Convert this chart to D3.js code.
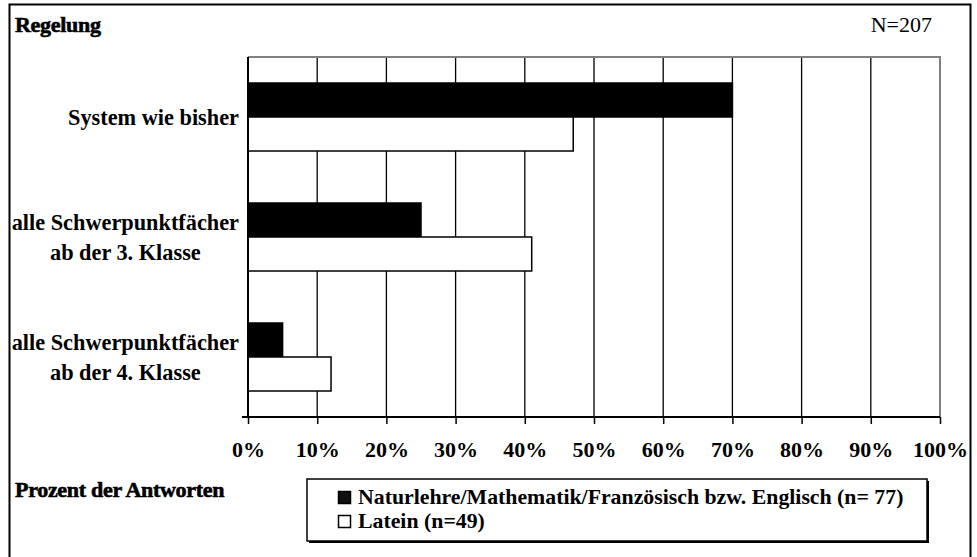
<!DOCTYPE html>
<html>
<head>
<meta charset="utf-8">
<script src="https://cdn.jsdelivr.net/npm/d3@7"></script>
<style>
  html, body { margin: 0; padding: 0; background: #fff; }
  svg { display: block; }
  text { font-family: "Liberation Serif", "Times New Roman", serif; fill: #000; }
</style>
</head>
<body>
<svg id="chart" width="977" height="557"></svg>
<script>
// Survey answers: preferred arrangement of the "Schwerpunktfächer"
const categories = [
  ["System wie bisher"],
  ["alle Schwerpunktfächer", "ab der 3. Klasse"],
  ["alle Schwerpunktfächer", "ab der 4. Klasse"]
];
const seriesNames = [
  "Naturlehre/Mathematik/Französisch bzw. Englisch (n= 77)",
  "Latein (n=49)"
];
const naturlehreValues = [70, 25, 5];
const lateinValues = [47, 41, 12];
const tickValues = [0, 10, 20, 30, 40, 50, 60, 70, 80, 90, 100];
const titleText = "Regelung";
const totalText = "N=207";
const axisTitle = "Prozent der Antworten";

const seriesValues = [naturlehreValues, lateinValues];
const seriesFill = ["#000", "#fff"];

const svg = d3.select("#chart");

// outer frame
svg.append("rect")
  .attr("x", 9.5).attr("y", 4.5)
  .attr("width", 961).attr("height", 560)
  .attr("fill", "#fff").attr("stroke", "#000").attr("stroke-width", 2);

const plot = { left: 248, right: 940, top: 57, bottom: 417 };

const x = d3.scaleLinear().domain([0, 100]).range([plot.left, plot.right]);
const y = d3.scaleBand()
  .domain(d3.range(categories.length))
  .range([plot.top, plot.bottom])
  .paddingInner(0.4333)
  .paddingOuter(0.2167);
const ySub = d3.scaleBand()
  .domain(d3.range(seriesNames.length))
  .range([0, y.bandwidth()]);

// vertical gridlines
svg.append("g")
  .selectAll("line")
  .data(tickValues.filter(t => t > 0 && t < 100))
  .join("line")
  .attr("x1", d => x(d)).attr("x2", d => x(d))
  .attr("y1", plot.top).attr("y2", plot.bottom)
  .attr("stroke", "#000").attr("stroke-width", 1.3);

// plot area top and right borders (grey)
svg.append("path")
  .attr("d", `M${plot.left},${plot.top}H${plot.right}V${plot.bottom}`)
  .attr("fill", "none").attr("stroke", "#808080").attr("stroke-width", 2);

// bars
const groups = svg.append("g")
  .selectAll("g")
  .data(categories.map((c, i) => i))
  .join("g")
  .attr("transform", i => `translate(0,${y(i)})`);

groups.selectAll("rect")
  .data(i => seriesValues.map((vals, s) => ({ s, v: vals[i] })))
  .join("rect")
  .attr("x", x(0))
  .attr("y", d => ySub(d.s))
  .attr("width", d => x(d.v) - x(0))
  .attr("height", ySub.bandwidth())
  .attr("fill", d => seriesFill[d.s])
  .attr("stroke", "#000")
  .attr("stroke-width", 1.5);

// x axis
const xAxis = svg.append("g")
  .attr("transform", `translate(0,${plot.bottom})`)
  .call(d3.axisBottom(x).tickValues(tickValues).tickFormat(d => d + "%").tickSize(7).tickSizeOuter(0).tickPadding(17));
xAxis.select(".domain").remove();
xAxis.selectAll(".tick line").attr("stroke", "#000").attr("stroke-width", 1.5);
xAxis.selectAll(".tick text")
  .attr("font-family", "Liberation Serif, serif")
  .attr("font-size", 22).attr("font-weight", "bold").attr("fill", "#000");
svg.append("line")
  .attr("x1", plot.left - 6).attr("x2", plot.right)
  .attr("y1", plot.bottom).attr("y2", plot.bottom)
  .attr("stroke", "#000").attr("stroke-width", 2);

// y axis line
svg.append("line")
  .attr("x1", plot.left).attr("x2", plot.left)
  .attr("y1", plot.top).attr("y2", plot.bottom)
  .attr("stroke", "#000").attr("stroke-width", 2);

// category labels: each block right-aligned, its lines centred inside it
const labelRight = 239;
const lineGap = 30;
categories.forEach((lines, i) => {
  const cy = y(i) + y.bandwidth() / 2;
  const g = svg.append("g");
  const texts = lines.map((ln, k) => g.append("text")
    .attr("font-size", 22.3).attr("font-weight", "bold")
    .attr("text-anchor", "middle")
    .attr("y", cy + 8 + (k - (lines.length - 1) / 2) * lineGap)
    .text(ln));
  const w = d3.max(texts, t => t.node().getComputedTextLength());
  texts.forEach(t => t.attr("x", labelRight - w / 2));
});

// title and total
svg.append("text")
  .attr("x", 15).attr("y", 32)
  .attr("font-size", 22).attr("font-weight", "bold")
  .attr("letter-spacing", -0.3)
  .attr("stroke", "#000").attr("stroke-width", 0.6)
  .text(titleText);
svg.append("text")
  .attr("x", 932).attr("y", 32)
  .attr("text-anchor", "end")
  .attr("font-size", 22)
  .text(totalText);
svg.append("text")
  .attr("x", 15).attr("y", 497)
  .attr("font-size", 22).attr("font-weight", "bold")
  .attr("letter-spacing", -0.3)
  .attr("stroke", "#000").attr("stroke-width", 0.6)
  .text(axisTitle);

// legend with drop shadow
const lg = { x: 307, y: 479, w: 620, h: 62 };
svg.append("rect")
  .attr("x", lg.x + 2).attr("y", lg.y + 2).attr("width", lg.w).attr("height", lg.h)
  .attr("fill", "#000");
svg.append("rect")
  .attr("x", lg.x).attr("y", lg.y).attr("width", lg.w).attr("height", lg.h)
  .attr("fill", "#fff").attr("stroke", "#000").attr("stroke-width", 1.5);
const legendItems = svg.append("g")
  .selectAll("g")
  .data(seriesNames.map((n, s) => ({ n, s })))
  .join("g")
  .attr("transform", d => `translate(338,${491 + d.s * 24})`);
legendItems.append("rect")
  .attr("x", 0.5).attr("y", 0.5).attr("width", 12).attr("height", 12)
  .attr("fill", d => d.s === 0 ? "#111" : "#fff")
  .attr("stroke", "#000").attr("stroke-width", 1.5);
legendItems.append("text")
  .attr("x", 20).attr("y", 13)
  .attr("font-size", 21.8).attr("font-weight", "bold")
  .text(d => d.n);
</script>
</body>
</html>
